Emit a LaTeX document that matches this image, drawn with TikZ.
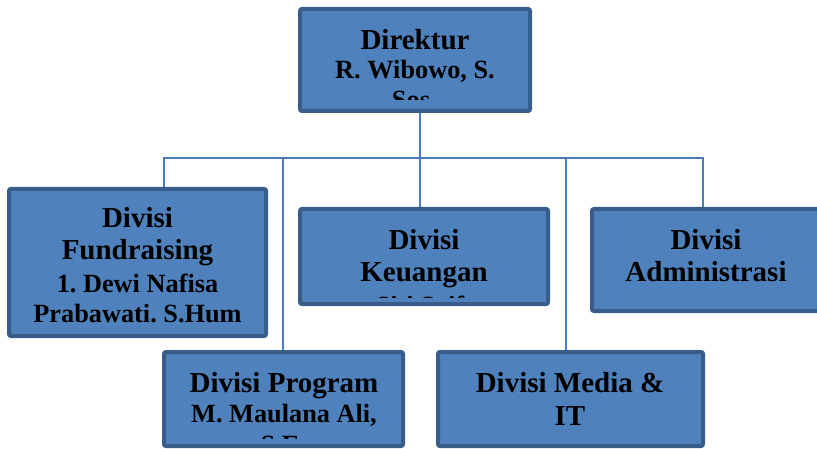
\documentclass[tikz,border=0pt]{standalone}
\usepackage{fontspec}
\setmainfont{Liberation Serif}
\usetikzlibrary{backgrounds}
\frenchspacing
\definecolor{boxfill}{HTML}{4F81BD}
\definecolor{boxedge}{HTML}{385D8A}
\definecolor{linkcol}{HTML}{4A7EBB}
\tikzset{
  orgbox/.style={draw=boxedge, fill=boxfill, line width=4pt, rounded corners=2pt, inner sep=0pt},
  link/.style={draw=linkcol, line width=1.4pt},
  big/.style={font=\bfseries\fontsize{29}{33}\selectfont, anchor=base, inner sep=0pt},
  small/.style={font=\bfseries\fontsize{26.3}{30}\selectfont, anchor=base, inner sep=0pt},
}
\begin{document}
\begin{tikzpicture}[x=1pt, y=-1pt]
\useasboundingbox (0,0) rectangle (817,449);
\clip (0,0) rectangle (817,449);
% boxes
\path[orgbox] (300,9) rectangle (530,111) node[pos=0.5, inner sep=0pt] (dir) {};
\path[orgbox] (9,189) rectangle (266,336) node[pos=0.5, inner sep=0pt] (fund) {};
\path[orgbox] (300,209) rectangle (548,304) node[pos=0.5, inner sep=0pt] (keu) {};
\path[orgbox] (592,209) rectangle (822,311) node[pos=0.5, inner sep=0pt] (adm) {};
\path[orgbox] (164,352) rectangle (403,446) node[pos=0.5, inner sep=0pt] (prog) {};
\path[orgbox] (438,352) rectangle (703,446) node[pos=0.5, inner sep=0pt] (media) {};
% connectors
\coordinate (dirb) at (420,109);
\coordinate (bus) at (420,158);
\coordinate (dF) at (164,158);
\coordinate (dP) at (283,158);
\coordinate (dK) at (420,158);
\coordinate (dM) at (566,158);
\coordinate (dA) at (703,158);
\coordinate (topF) at (164,188);
\coordinate (topP) at (283,351);
\coordinate (topK) at (420,208);
\coordinate (topM) at (566,351);
\coordinate (topA) at (703,208);
\begin{scope}[on background layer]
\draw[link] (dirb) -- (bus);
\draw[link] (topF) -- (dF) -- (dA) -- (topA);
\draw[link] (dP) -- (topP);
\draw[link] (dK) -- (topK);
\draw[link] (dM) -- (topM);
\end{scope}
% texts
\begin{scope}
\clip (304,13) rectangle (526,100);
\node[big] (dir1) at (415,50) {Direktur};
\node[small] (dir2) at (415,79) {R. Wibowo, S.};
\node[small] (dir3) at (411,109) {Sos};
\end{scope}
\begin{scope}
\node[big] (fund1) at (137.5,228) {Divisi};
\node[big] (fund2) at (137.5,260) {Fundraising};
\node[small] (fund3) at (137.5,292) {1. Dewi Nafisa};
\node[small] (fund4) at (137.5,323) {Prabawati. S.Hum};
\end{scope}
\begin{scope}
\clip (304,213) rectangle (544,298);
\node[big] (keu1) at (424,250) {Divisi};
\node[big] (keu2) at (424,282) {Keuangan};
\node[small] (keu3) at (420,314) {Siti Saif};
\end{scope}
\begin{scope}
\node[big] (adm1) at (706,250) {Divisi};
\node[big] (adm2) at (706,282) {Administrasi};
\end{scope}
\begin{scope}
\clip (168,356) rectangle (399,438);
\node[big] (prog1) at (284,392) {Divisi Program};
\node[small] (prog2) at (284,422) {M. Maulana Ali,};
\node[small] (prog3) at (280,453) {S.E};
\end{scope}
\begin{scope}
\node[big] (media1) at (570,392) {Divisi Media \&};
\node[big] (media2) at (570,425) {IT};
\end{scope}
\end{tikzpicture}
\end{document}
